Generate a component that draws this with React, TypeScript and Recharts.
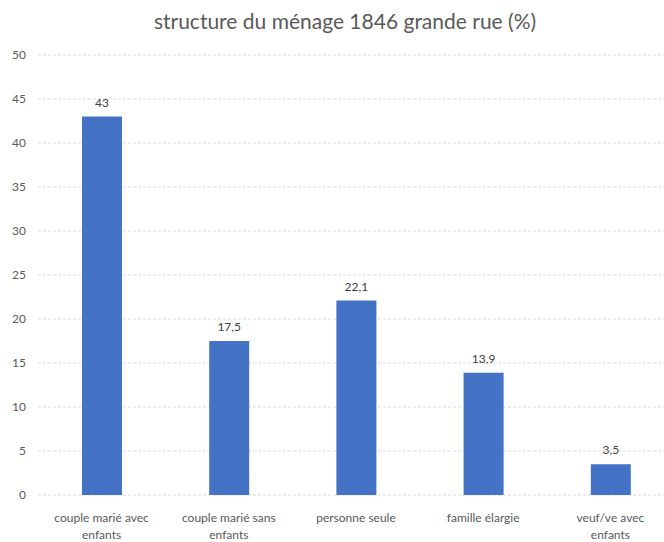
import { Bar, BarChart, CartesianGrid, LabelList, Text, XAxis, YAxis } from 'recharts';

const categories = [
  'couple marié avec enfants',
  'couple marié sans enfants',
  'personne seule',
  'famille élargie',
  'veuf/ve avec enfants'
];
const shares = [43, 17.5, 22.1, 13.9, 3.5];
const yTicks = [0, 5, 10, 15, 20, 25, 30, 35, 40, 45, 50];

const data = categories.map((name, i) => ({ name, value: shares[i] }));

const font = 'Lato, "Open Sans", sans-serif';

function CategoryTick({ x, y, payload }: any) {
  return (
    <Text
      x={x}
      y={y + 10}
      width={122}
      textAnchor="middle"
      verticalAnchor="start"
      fontSize={12}
      fill="#595959"
      fontFamily={font}
      lineHeight={17}
    >
      {payload.value}
    </Text>
  );
}

export default function App() {
  return (
    <div style={{ position: 'absolute', left: 0, top: 0, width: 664, height: 542, overflow: 'hidden', background: '#fff' }}>
      <div
        style={{
          position: 'absolute',
          left: 0,
          width: 690,
          top: 8,
          textAlign: 'center',
          fontFamily: font,
          fontSize: 21,
          color: '#595959'
        }}
      >
        structure du ménage 1846 grande rue (%)
      </div>
      <BarChart width={680} height={542} data={data} margin={{ top: 55, right: 6, left: 0, bottom: 0 }}>
        <CartesianGrid strokeDasharray="3 2" stroke="#d9d9d9" vertical={false} />
        <XAxis dataKey="name" interval={0} axisLine={false} tickLine={false} height={47} tick={<CategoryTick />} />
        <YAxis
          domain={[0, 50]}
          ticks={yTicks}
          width={38}
          axisLine={false}
          tickLine={false}
          tick={{ fontSize: 12, fill: '#595959', fontFamily: font, dx: -4 }}
        />
        <Bar dataKey="value" fill="#4472c4" barSize={40} isAnimationActive={false}>
          <LabelList
            dataKey="value"
            position="top"
            offset={10}
            formatter={(v: any) => String(v).replace('.', ',')}
            style={{ fontSize: 12, fill: '#404040', fontFamily: font }}
          />
        </Bar>
      </BarChart>
    </div>
  );
}
